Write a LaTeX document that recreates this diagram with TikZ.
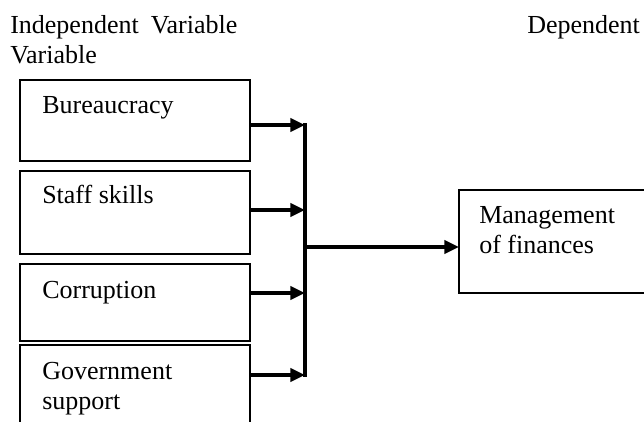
\documentclass[tikz,border=0pt]{standalone}
\usepackage{fontspec}
\setmainfont{Liberation Serif}
\usetikzlibrary{arrows.meta}

\begin{document}
\begin{tikzpicture}[x=0.75pt,y=-0.75pt,>={Triangle[length=11pt,width=10pt]},
  varbox/.style={draw,line width=0.9pt,inner sep=0pt,outer sep=0pt,minimum width=172.5pt},
  lbl/.style={font=\fontsize{19.5}{22.5}\selectfont,inner sep=0pt,align=left},
  feed/.style={->,line width=2.5pt}]
\useasboundingbox (0,0) rectangle (644,422);
\clip (0,0) rectangle (644,422);
% headings
\node[lbl,anchor=base west] (indep) at (10,63) {Independent\hspace{9pt}Variable\\Variable};
\node[lbl,anchor=base west] (dep) at (527,33) {Dependent};
% left: independent variable boxes
\node[varbox,minimum height=60.75pt] (bur) at (135,120.5) {};
\node[varbox,minimum height=62.25pt] (staff) at (135,212.5) {};
\node[varbox,minimum height=57.75pt] (corr) at (135,302.5) {};
\node[varbox,minimum height=75pt] (gov) at (135,395) {};
\node[lbl,anchor=base west] (burtxt) at (42,113) {Bureaucracy};
\node[lbl,anchor=base west] (stafftxt) at (42,203) {Staff skills};
\node[lbl,anchor=base west] (corrtxt) at (42,298) {Corruption};
\node[lbl,anchor=base west] (govtxt) at (42,409) {Government\\support};
% right: dependent variable box
\node[varbox,minimum width=195.75pt,minimum height=77.25pt] (mgmt) at (589.5,241.5) {};
\node[lbl,anchor=base west] (mgmttxt) at (479,253) {Management\\of finances};
% connectors
\coordinate (j1) at (305,125);
\coordinate (j2) at (305,210);
\coordinate (j3) at (305,293);
\coordinate (j4) at (305,375);
\coordinate (hub) at (305,247);
\draw[feed] (j1 -| bur.east) -- (j1);
\draw[feed] (j2 -| staff.east) -- (j2);
\draw[feed] (j3 -| corr.east) -- (j3);
\draw[feed] (j4 -| gov.east) -- (j4);
\draw[line width=2.5pt,line cap=rect] (j1) -- (j4);
\draw[feed] (hub) -- (hub -| mgmt.west);
\end{tikzpicture}
\end{document}
